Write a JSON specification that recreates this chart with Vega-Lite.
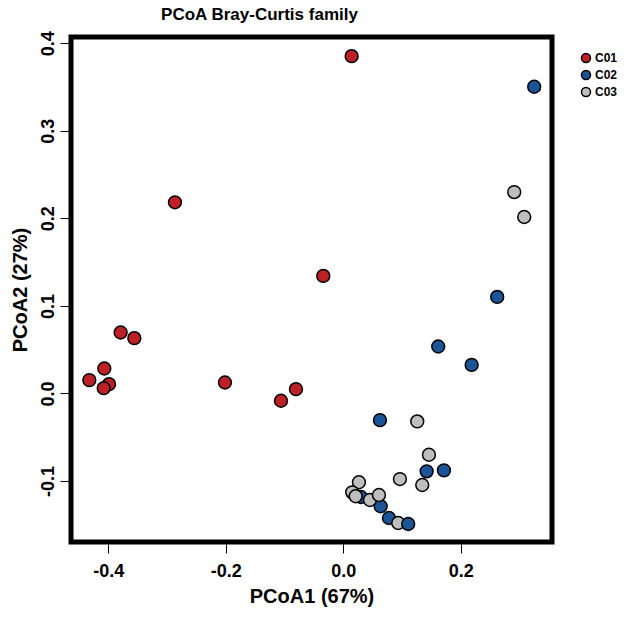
{
  "$schema": "https://vega.github.io/schema/vega-lite/v6.json",
  "width": 481,
  "height": 505,
  "autosize": {"type": "none"},
  "padding": {"left": 71, "top": 37, "right": 78, "bottom": 78},
  "background": "white",
  "title": {
    "text": "PCoA Bray-Curtis family",
    "anchor": "middle",
    "frame": "group",
    "dx": -52,
    "offset": 7,
    "font": "Liberation Sans",
    "fontSize": 17,
    "fontWeight": "bold",
    "color": "black"
  },
  "data": {
    "values": [
      {"PC1": 0.0143, "PC2": 0.3852, "group": "C01"},
      {"PC1": -0.2865, "PC2": 0.2183, "group": "C01"},
      {"PC1": -0.034, "PC2": 0.1342, "group": "C01"},
      {"PC1": -0.379, "PC2": 0.0696, "group": "C01"},
      {"PC1": -0.3557, "PC2": 0.0631, "group": "C01"},
      {"PC1": -0.4068, "PC2": 0.0285, "group": "C01"},
      {"PC1": -0.4323, "PC2": 0.0152, "group": "C01"},
      {"PC1": -0.3988, "PC2": 0.0106, "group": "C01"},
      {"PC1": -0.4078, "PC2": 0.006, "group": "C01"},
      {"PC1": -0.2014, "PC2": 0.0125, "group": "C01"},
      {"PC1": -0.0805, "PC2": 0.0049, "group": "C01"},
      {"PC1": -0.106, "PC2": -0.0084, "group": "C01"},
      {"PC1": 0.3251, "PC2": 0.3503, "group": "C02"},
      {"PC1": 0.2621, "PC2": 0.1102, "group": "C02"},
      {"PC1": 0.1617, "PC2": 0.0536, "group": "C02"},
      {"PC1": 0.2186, "PC2": 0.0326, "group": "C02"},
      {"PC1": 0.0625, "PC2": -0.0305, "group": "C02"},
      {"PC1": 0.142, "PC2": -0.089, "group": "C02"},
      {"PC1": 0.1714, "PC2": -0.0879, "group": "C02"},
      {"PC1": 0.0301, "PC2": -0.1183, "group": "C02"},
      {"PC1": 0.0637, "PC2": -0.1289, "group": "C02"},
      {"PC1": 0.0778, "PC2": -0.1423, "group": "C02"},
      {"PC1": 0.2911, "PC2": 0.23, "group": "C03"},
      {"PC1": 0.3081, "PC2": 0.2015, "group": "C03"},
      {"PC1": 0.126, "PC2": -0.032, "group": "C03"},
      {"PC1": 0.1459, "PC2": -0.07, "group": "C03"},
      {"PC1": 0.0965, "PC2": -0.0978, "group": "C03"},
      {"PC1": 0.1345, "PC2": -0.1046, "group": "C03"},
      {"PC1": 0.0267, "PC2": -0.1015, "group": "C03"},
      {"PC1": 0.0153, "PC2": -0.113, "group": "C03"},
      {"PC1": 0.0211, "PC2": -0.1175, "group": "C03"},
      {"PC1": 0.0454, "PC2": -0.1217, "group": "C03"},
      {"PC1": 0.0608, "PC2": -0.116, "group": "C03"},
      {"PC1": 0.0936, "PC2": -0.148, "group": "C03"},
      {"PC1": 0.1106, "PC2": -0.1491, "group": "C02"}
    ]
  },
  "mark": {
    "type": "point",
    "shape": "circle",
    "filled": true,
    "size": 165,
    "stroke": "black",
    "strokeWidth": 1.5,
    "opacity": 1
  },
  "encoding": {
    "x": {
      "field": "PC1",
      "type": "quantitative",
      "title": "PCoA1 (67%)",
      "scale": {"domain": [-0.4635, 0.3554], "nice": false, "zero": false},
      "axis": {
        "values": [-0.4, -0.2, 0, 0.2],
        "format": ".1f",
        "labelExpr": "replace(datum.label, '\u2212', '-')",
        "labelFontSize": 18,
        "labelPadding": 9,
        "titleFontSize": 20,
        "titlePadding": 6
      }
    },
    "y": {
      "field": "PC2",
      "type": "quantitative",
      "title": "PCoA2 (27%)",
      "scale": {"domain": [-0.1697, 0.4071], "nice": false, "zero": false},
      "axis": {
        "values": [-0.1, 0, 0.1, 0.2, 0.3, 0.4],
        "format": ".1f",
        "labelExpr": "replace(datum.label, '\u2212', '-')",
        "labelAngle": -90,
        "labelAlign": "center",
        "labelBaseline": "bottom",
        "labelFontSize": 18,
        "labelPadding": 3,
        "titleFontSize": 20,
        "titlePadding": 9
      }
    },
    "color": {
      "field": "group",
      "type": "nominal",
      "scale": {"domain": ["C01", "C02", "C03"], "range": ["#BE2026", "#1B5597", "#BEBEBE"]},
      "legend": {
        "title": null,
        "orient": "none",
        "legendX": 509,
        "legendY": 15,
        "symbolType": "circle",
        "symbolSize": 81,
        "symbolStrokeColor": "black",
        "symbolStrokeWidth": 1.5,
        "symbolOpacity": 1,
        "labelFont": "Liberation Sans",
        "labelFontSize": 12,
        "labelFontWeight": "bold",
        "labelColor": "black",
        "labelOffset": 3,
        "rowPadding": 1,
        "padding": 0
      }
    }
  },
  "config": {
    "view": {"stroke": "black", "strokeWidth": 5},
    "axis": {
      "grid": false,
      "domain": false,
      "ticks": true,
      "tickSize": 11,
      "tickWidth": 1,
      "tickColor": "black",
      "labelFont": "Liberation Sans",
      "labelFontWeight": "bold",
      "labelColor": "black",
      "titleFont": "Liberation Sans",
      "titleFontWeight": "bold",
      "titleColor": "black",
      "labelFlush": false,
      "labelOverlap": false
    }
  }
}
